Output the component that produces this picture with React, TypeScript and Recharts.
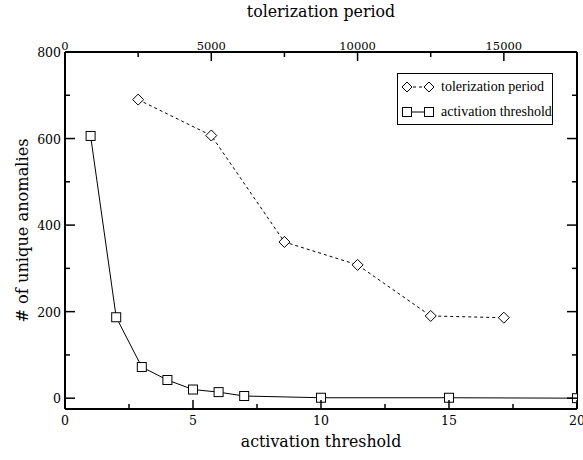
import React from 'react';
import { LineChart, Line, XAxis, YAxis, Label } from 'recharts';

// activation threshold series (bottom axis)
const thresholds = [1, 2, 3, 4, 5, 6, 7, 10, 15, 20];
const thresholdAnomalies = [606, 187, 72, 42, 20, 14, 5, 1, 1, 0];

// tolerization period series (top axis)
const periods = [2500, 5000, 7500, 10000, 12500, 15000];
const periodAnomalies = [690, 607, 361, 308, 190, 186];

const yTicks = [0, 100, 200, 300, 400, 500, 600, 700, 800];
const bottomTicks = [0, 2.5, 5, 7.5, 10, 12.5, 15, 17.5, 20];
const topTicks = [0, 2500, 5000, 7500, 10000, 12500, 15000];

const seriesNames = ['tolerization period', 'activation threshold'];

const thresholdData = thresholds.map((t, i) => ({ threshold: t, anomalies: thresholdAnomalies[i] }));
const periodData = periods.map((p, i) => ({ period: p, anomalies: periodAnomalies[i] }));

// serif that renders inside the chart svg
const SVG_FONT = 'DejaVu Serif';
const HTML_FONT = 'Liberation Serif';

const Square = (props: any) => {
  const { cx, cy } = props;
  if (cx == null || cy == null) return null;
  return <rect x={cx - 4.5} y={cy - 4.5} width={9} height={9} fill="#fff" stroke="#000" strokeWidth={1} />;
};

const Diamond = (props: any) => {
  const { cx, cy } = props;
  if (cx == null || cy == null) return null;
  const r = 5.5;
  return (
    <path
      d={`M${cx} ${cy - r}L${cx + r} ${cy}L${cx} ${cy + r}L${cx - r} ${cy}Z`}
      fill="#fff"
      stroke="#000"
      strokeWidth={1}
    />
  );
};

const LeftTick = (props: any) => {
  const { x, y, payload } = props;
  const major = payload.value % 200 === 0;
  return (
    <g>
      <line x1={x} x2={x + (major ? 10 : 5)} y1={y} y2={y} stroke="#000" strokeWidth={1.5} />
      {major && (
        <text x={x - 4} y={y} dy={5} textAnchor="end" fontSize={12.5} fontFamily={SVG_FONT} fill="#000">
          {payload.value}
        </text>
      )}
    </g>
  );
};

const RightTick = (props: any) => {
  const { x, y, payload } = props;
  const major = payload.value % 200 === 0;
  return <line x1={x} x2={x - (major ? 10 : 5)} y1={y} y2={y} stroke="#000" strokeWidth={1.5} />;
};

const BottomTick = (props: any) => {
  const { x, y, payload } = props;
  const major = payload.value % 5 === 0;
  return (
    <g>
      <line x1={x} x2={x} y1={y} y2={y - (major ? 9 : 5)} stroke="#000" strokeWidth={1.5} />
      {major && (
        <text x={x} y={y + 16} textAnchor="middle" fontSize={12.5} fontFamily={SVG_FONT} fill="#000">
          {payload.value}
        </text>
      )}
    </g>
  );
};

const TopTick = (props: any) => {
  const { x, y, payload } = props;
  const major = payload.value % 5000 === 0;
  return (
    <g>
      <line x1={x} x2={x} y1={y} y2={y + (major ? 9 : 5)} stroke="#000" strokeWidth={1.5} />
      {major && (
        <text x={x} y={y - 2} textAnchor="middle" fontSize={11.5} fontFamily={SVG_FONT} fill="#000">
          {payload.value}
        </text>
      )}
    </g>
  );
};

const LegendBox = () => (
  <div
    style={{
      position: 'absolute',
      left: 397,
      top: 73,
      width: 154,
      height: 50,
      border: '1px solid #000',
      background: '#fff',
      fontFamily: HTML_FONT,
      fontSize: 14,
      whiteSpace: 'nowrap',
    }}
  >
    {seriesNames.map((name, i) => (
      <div key={name} style={{ display: 'flex', alignItems: 'center', height: 25, paddingLeft: 3 }}>
        <svg width={34} height={14} style={{ marginRight: 6, flex: 'none' }}>
          <line x1={6} x2={28} y1={7} y2={7} stroke="#000" strokeWidth={1} strokeDasharray={i === 0 ? '3 3' : undefined} />
          {i === 0 ? (
            <>
              <path d="M6 2L11 7L6 12L1 7Z" fill="#fff" stroke="#000" />
              <path d="M28 2L33 7L28 12L23 7Z" fill="#fff" stroke="#000" />
            </>
          ) : (
            <>
              <rect x={1.5} y={2.5} width={9} height={9} fill="#fff" stroke="#000" />
              <rect x={23.5} y={2.5} width={9} height={9} fill="#fff" stroke="#000" />
            </>
          )}
        </svg>
        <span>{name}</span>
      </div>
    ))}
  </div>
);

const App: React.FC = () => {
  return (
    <div style={{ position: 'absolute', left: 0, top: 0, width: 583, height: 460, background: '#fff' }}>
      <LineChart width={583} height={460} margin={{ top: 0, right: 0, bottom: 0, left: 0 }}>
        <XAxis
          xAxisId="bottom"
          dataKey="threshold"
          type="number"
          orientation="bottom"
          domain={[0, 20]}
          ticks={bottomTicks}
          interval={0}
          height={51}
          tickSize={0}
          tickMargin={0}
          tickLine={false}
          axisLine={{ stroke: '#000', strokeWidth: 2 }}
          tick={<BottomTick />}
          allowDataOverflow
        >
          <Label
            content={(p: any) => {
              const vb = p.viewBox;
              return (
                <text x={vb.x + vb.width / 2} y={vb.y + 38} textAnchor="middle" fontSize={15.8} fontFamily={SVG_FONT} fill="#000">
                  activation threshold
                </text>
              );
            }}
          />
        </XAxis>
        <XAxis
          xAxisId="top"
          dataKey="period"
          type="number"
          orientation="top"
          domain={[0, 17500]}
          ticks={topTicks}
          interval={0}
          height={52}
          tickSize={0}
          tickMargin={0}
          tickLine={false}
          axisLine={{ stroke: '#000', strokeWidth: 2 }}
          tick={<TopTick />}
          allowDataOverflow
        >
          <Label
            content={(p: any) => {
              const vb = p.viewBox;
              return (
                <text x={vb.x + vb.width / 2} y={vb.y + 17} textAnchor="middle" fontSize={15.8} fontFamily={SVG_FONT} fill="#000">
                  tolerization period
                </text>
              );
            }}
          />
        </XAxis>
        <YAxis
          yAxisId="left"
          type="number"
          domain={[-25, 800]}
          ticks={yTicks}
          interval={0}
          width={65}
          tickSize={0}
          tickMargin={0}
          tickLine={false}
          axisLine={{ stroke: '#000', strokeWidth: 2 }}
          tick={<LeftTick />}
          allowDataOverflow
        >
          <Label
            content={(p: any) => {
              const vb = p.viewBox;
              const cx = vb.x + 22;
              const cy = vb.y + vb.height / 2;
              return (
                <text
                  x={cx}
                  y={cy}
                  dy="0.35em"
                  textAnchor="middle"
                  transform={`rotate(-90 ${cx} ${cy})`}
                  fontSize={16.2}
                  fontFamily={SVG_FONT}
                  fill="#000"
                >
                  # of unique anomalies
                </text>
              );
            }}
          />
        </YAxis>
        <YAxis
          yAxisId="right"
          orientation="right"
          type="number"
          domain={[-25, 800]}
          ticks={yTicks}
          interval={0}
          width={6}
          tickSize={0}
          tickMargin={0}
          tickLine={false}
          axisLine={{ stroke: '#000', strokeWidth: 2 }}
          tick={<RightTick />}
          allowDataOverflow
        />
        <Line
          data={periodData}
          xAxisId="top"
          yAxisId="left"
          dataKey="anomalies"
          name={seriesNames[0]}
          type="linear"
          stroke="#000"
          strokeWidth={1}
          strokeDasharray="3 3"
          dot={(p: any) => <Diamond key={`d${p.index}`} {...p} />}
          isAnimationActive={false}
        />
        <Line
          data={thresholdData}
          xAxisId="bottom"
          yAxisId="left"
          dataKey="anomalies"
          name={seriesNames[1]}
          type="linear"
          stroke="#000"
          strokeWidth={1}
          dot={(p: any) => <Square key={`s${p.index}`} {...p} />}
          isAnimationActive={false}
        />
      </LineChart>
      <LegendBox />
    </div>
  );
};

export default App;
